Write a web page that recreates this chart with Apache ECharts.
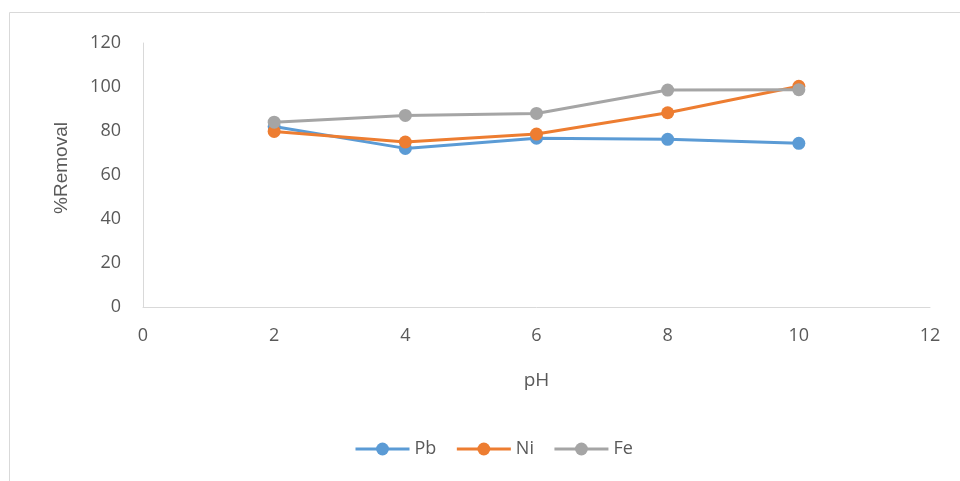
<!DOCTYPE html>
<html><head><meta charset="utf-8">
<script src="https://cdn.jsdelivr.net/npm/echarts@6/dist/echarts.min.js"></script>
<style>html,body{margin:0;padding:0;background:#fff}#c{width:960px;height:481px}</style>
</head><body><div id="c"></div>
<script>
const phValues = [2, 4, 6, 8, 10];
const pbValues = [82, 72.1, 76.7, 76.2, 74.4];
const niValues = [79.8, 75, 78.6, 88.3, 100.3];
const feValues = [84, 87.1, 88, 98.6, 98.8];
const xTicks = [0, 2, 4, 6, 8, 10, 12];
const yTicks = [0, 20, 40, 60, 80, 100, 120];

const font = '"Open Sans", "Liberation Sans", Arial, sans-serif';
const axisColor = '#d9d9d9';
const textColor = '#595959';
function pairs(vals){ return phValues.map((x,i)=>[x, vals[i]]); }
function mk(name, vals, color){
  return {name, type:'line', data:pairs(vals), symbol:'circle', symbolSize:13,
    lineStyle:{color, width:3}, itemStyle:{color}, emphasis:{disabled:true}};
}
const chart = echarts.init(document.getElementById('c'), null, {renderer:'canvas'});
chart.setOption({
  animation:false,
  graphic:[{type:'rect', shape:{x:9.5, y:12.5, width:960, height:480}, style:{fill:'none', stroke:'#d9d9d9', lineWidth:1}, silent:true}],
  grid:{left:143, right:30, top:43, bottom:174},
  xAxis:{type:'value', min:0, max:12, interval:2, name:'pH', nameLocation:'middle', nameGap:64,
    nameTextStyle:{color:textColor, fontSize:19, fontFamily:font},
    axisLine:{show:true, lineStyle:{color:axisColor, width:1}}, axisTick:{show:false}, splitLine:{show:false},
    axisLabel:{color:textColor, fontSize:18, fontFamily:font, margin:20}},
  yAxis:{type:'value', min:0, max:120, interval:20, name:'%Removal', nameLocation:'middle', nameGap:72,
    nameTextStyle:{color:textColor, fontSize:19, fontFamily:'"Liberation Sans", Arial, sans-serif', padding:[0,0,0,14]},
    axisLine:{show:true, lineStyle:{color:axisColor, width:1}}, axisTick:{show:false}, splitLine:{show:false},
    axisLabel:{color:textColor, fontSize:18, fontFamily:font, margin:22}},
  legend:{top:435, left:349, itemWidth:54, itemHeight:16, itemGap:19,
    textStyle:{color:textColor, fontSize:18, fontFamily:font},
    lineStyle:{width:3},
    data:['Pb','Ni','Fe']},
  series:[mk('Pb', pbValues, '#5b9bd5'), mk('Ni', niValues, '#ed7d31'), mk('Fe', feValues, '#a5a5a5')]
});
</script></body></html>
